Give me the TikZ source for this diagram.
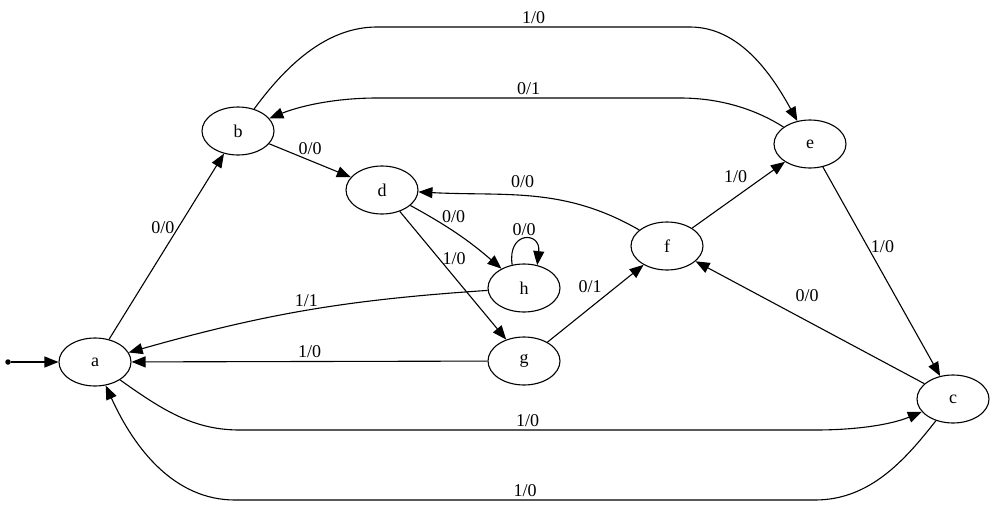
\documentclass[tikz,border=0pt]{standalone}
\usepackage{fontspec}
\setmainfont{Liberation Serif}
\usetikzlibrary{arrows.meta,shapes.geometric}

\begin{document}
\begin{tikzpicture}[
    x=1pt, y=1pt,
    font=\fontsize{18}{20}\selectfont,
    state/.style={
        ellipse,
        draw=black,
        line width=1.1pt,
        minimum width=72pt,
        minimum height=48pt,
        inner sep=0pt},
    trans/.style={-{Triangle[length=14pt,width=11pt]}, line width=1.1pt},
    lbl/.style={inner sep=3pt}
]
    \useasboundingbox (0,0) rectangle (995,-506);

    % states
    \node[
        circle,
        fill=black,
        inner sep=0pt,
        minimum size=5.5pt]
        (start) at (8,-362) {};
    \node[state] (a) at (95,-362) {a};
    \node[state] (b) at (238,-131) {b};
    \node[state] (d) at (382,-190) {d};
    \node[state] (h) at (524,-288) {h};
    \node[state] (g) at (524,-361) {g};
    \node[state] (f) at (667,-246) {f};
    \node[state] (e) at (810,-144) {e};
    \node[state] (c) at (953,-399) {c};

    % transitions
    \draw[trans] (start) -- (a);
    \draw[trans] (a) -- node[lbl, pos=0.6, left] {0/0} (b);
    \draw[trans] (b) -- node[lbl, pos=0.5, above=2pt] {0/0} (d);
    \draw[trans] (b) .. controls (290,-60) and (330,-27) .. (377,-27)
        -- node[lbl, above] {1/0} (690,-27)
        .. controls (740,-27) and (772,-75) .. (e);
    \draw[trans] (e) .. controls (760,-112) and (725,-98) .. (680,-98)
        -- node[lbl, above] {0/1} (377,-98)
        .. controls (335,-98) and (300,-106) .. (b);
    \draw[trans] (d) to[bend left=6] node[lbl, pos=0.45, above=5pt] {0/0} (h);
    \draw[trans] (d) -- node[lbl, pos=0.37, right] {1/0} (g);
    \draw[trans] (h.117) .. controls (507,-231) and (541,-231) .. node[lbl, above] {0/0} (h.60);
    \draw[trans] (h) to[bend right=6] node[lbl, above] {1/1} (a);
    \draw[trans] (g) -- node[lbl, above] {1/0} (a);
    \draw[trans] (g) -- node[lbl, pos=0.6, above left] {0/1} (f);
    \draw[trans] (f) to[out=150, in=-3] node[lbl, pos=0.55, above=4pt] {0/0} (d);
    \draw[trans] (f) -- node[lbl, pos=0.63, above left] {1/0} (e);
    \draw[trans] (e) -- node[lbl, pos=0.38, right] {1/0} (c);
    \draw[trans] (c) -- node[lbl, pos=0.6, above right=5pt] {0/0} (f);
    \draw[trans] (a) .. controls (165,-412) and (195,-430) .. (240,-430)
        -- node[lbl, above] {1/0} (815,-430)
        .. controls (855,-430) and (890,-425) .. (c);
    \draw[trans] (c) .. controls (905,-460) and (870,-500) .. (815,-500)
        -- node[lbl, above] {1/0} (235,-500)
        .. controls (175,-500) and (135,-450) .. (a);
\end{tikzpicture}
\end{document}
